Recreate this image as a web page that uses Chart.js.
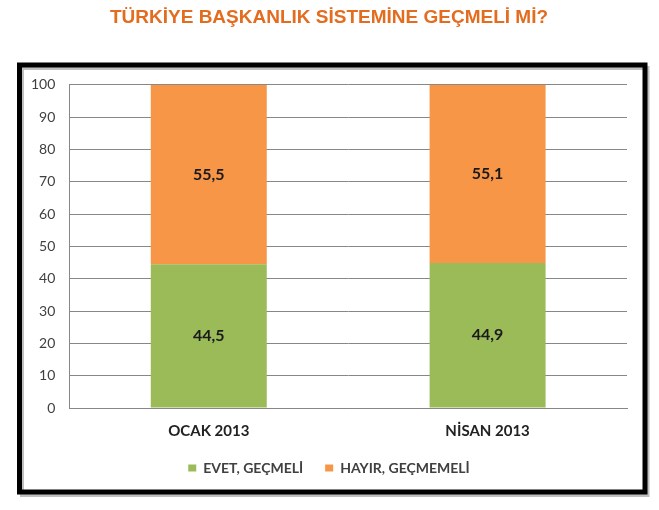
<!DOCTYPE html>
<html>
<head>
<meta charset="utf-8">
<script src="https://cdn.jsdelivr.net/npm/chart.js@4"></script>
<style>
  html, body { margin: 0; padding: 0; background: #fff; }
  #wrap { width: 659px; height: 510px; }
</style>
</head>
<body>
<div id="wrap"><canvas id="c" width="659" height="510"></canvas></div>
<script>
const categories = ["OCAK 2013", "NİSAN 2013"];
const evetValues = [44.5, 44.9];
const hayirValues = [55.5, 55.1];
const seriesNames = ["EVET, GEÇMELİ", "HAYIR, GEÇMEMELİ"];
const titleText = "TÜRKİYE BAŞKANLIK SİSTEMİNE GEÇMELİ Mİ?";
const yTicks = [0, 10, 20, 30, 40, 50, 60, 70, 80, 90, 100];

const boxPlugin = {
  id: 'boxFrame',
  beforeDraw(chart) {
    const ctx = chart.ctx;
    ctx.save();
    ctx.fillStyle = '#ffffff';
    ctx.fillRect(0, 0, chart.width, chart.height);
    ctx.strokeStyle = 'rgba(0,0,0,0.25)';
    ctx.lineWidth = 4;
    ctx.strokeRect(22, 68, 625.5, 427);
    ctx.strokeStyle = '#000';
    ctx.lineWidth = 5;
    ctx.strokeRect(19.5, 65, 625.5, 427);
    ctx.restore();
  }
};

const labelPlugin = {
  id: 'segLabels',
  afterDatasetsDraw(chart) {
    const ctx = chart.ctx;
    ctx.save();
    ctx.font = 'bold 16px Lato, "Open Sans", sans-serif';
    ctx.fillStyle = '#1a1a1a';
    ctx.textAlign = 'center';
    ctx.textBaseline = 'middle';
    chart.data.datasets.forEach((ds, di) => {
      const meta = chart.getDatasetMeta(di);
      meta.data.forEach((bar, i) => {
        const v = ds.data[i];
        const yMid = (bar.y + bar.base) / 2;
        ctx.fillText(v.toFixed(1).replace('.', ','), bar.x, yMid);
      });
    });
    ctx.restore();
  }
};

new Chart(document.getElementById('c'), {
  type: 'bar',
  data: {
    labels: categories,
    datasets: [
      { label: seriesNames[0], data: evetValues, backgroundColor: '#9BBB59', borderWidth: 0 },
      { label: seriesNames[1], data: hayirValues, backgroundColor: '#F79646', borderWidth: 0 }
    ]
  },
  options: {
    responsive: false,
    animation: false,
    devicePixelRatio: 1,
    layout: { padding: { top: 6, left: 31, right: 32, bottom: 25 } },
    datasets: { bar: { categoryPercentage: 1, barPercentage: 0.416 } },
    plugins: {
      title: {
        display: true,
        text: titleText,
        color: '#E36C1F',
        font: { family: '"Liberation Sans", Arial, sans-serif', size: 19, weight: 'bold' },
        padding: { top: 0, bottom: 56 },
        fullSize: true
      },
      legend: {
        position: 'bottom',
        labels: {
          boxWidth: 8,
          boxHeight: 7,
          color: '#404040',
          padding: 22,
          font: { family: 'Lato, "Open Sans", sans-serif', size: 14, weight: 'bold' }
        }
      },
      tooltip: { enabled: false }
    },
    scales: {
      x: {
        stacked: true,
        grid: { display: false, drawTicks: false },
        border: { display: true, color: '#878787' },
        afterFit(scale) { scale.height -= 15; },
        ticks: {
          padding: 14,
          color: '#222',
          font: { family: 'Lato, "Open Sans", sans-serif', size: 15, weight: 'bold' }
        }
      },
      y: {
        stacked: true,
        min: 0,
        max: 100,
        afterBuildTicks(axis) { axis.ticks = yTicks.map(v => ({ value: v })); },
        afterFit(scale) { scale.width -= 14; },
        grid: { color: '#878787', drawTicks: false, lineWidth: 1 },
        border: { display: true, color: '#878787' },
        ticks: {
          padding: 14,
          color: '#404040',
          font: { family: 'Lato, "Open Sans", sans-serif', size: 14 }
        }
      }
    }
  },
  plugins: [boxPlugin, labelPlugin]
});
</script>
</body>
</html>
